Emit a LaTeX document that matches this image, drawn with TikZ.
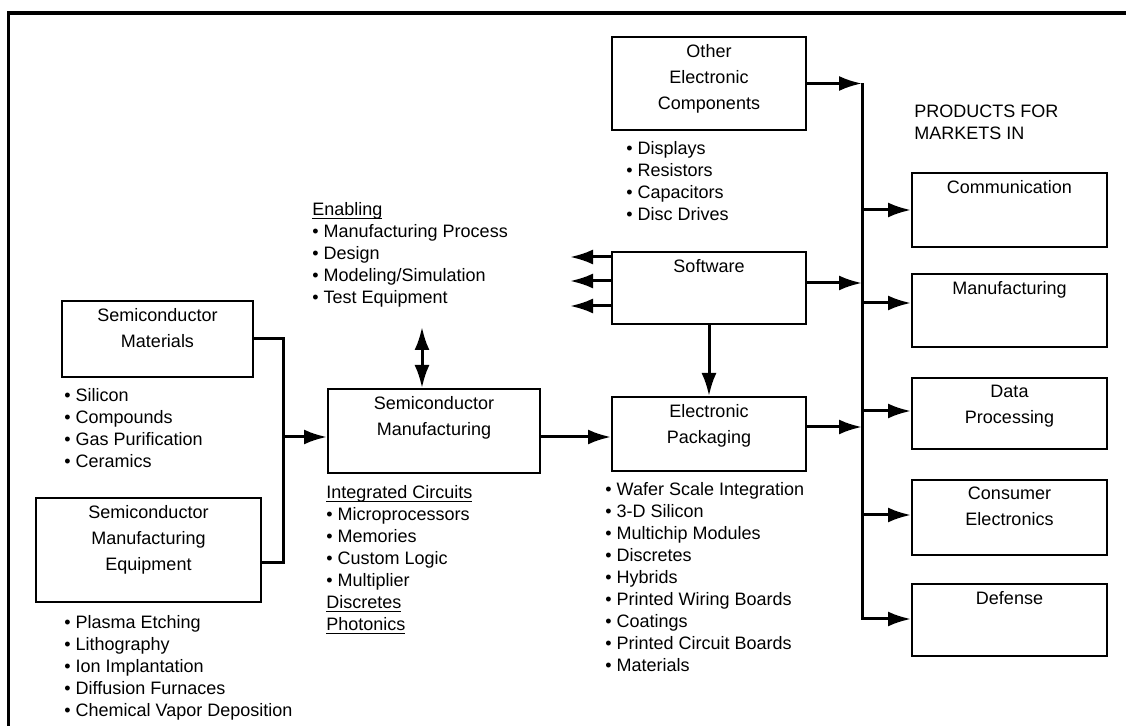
\documentclass[tikz,border=0pt]{standalone}
\usepackage{amsmath}
\usepackage{fontspec}
\setmainfont{Liberation Sans}
\usetikzlibrary{arrows.meta}

\newcommand{\ulin}[1]{\underline{\smash[b]{#1}}}

\tikzset{
  blk/.style={draw, line width=1pt, inner sep=0pt},
  ttl/.style={anchor=north, align=center, inner sep=0pt, yshift=-4pt, font=\fontsize{9}{13}\selectfont},
  lst/.style={anchor=north west, align=left, inner sep=0pt, font=\fontsize{9}{11}\selectfont},
  ln/.style={line width=1.5pt},
  arr/.style={ln, -{Latex[length=11.5pt,width=7.5pt]}},
  dbl/.style={ln, {Latex[length=11.5pt,width=7.5pt]}-{Latex[length=11.5pt,width=7.5pt]}},
}

\begin{document}
\begin{tikzpicture}[x=0.5pt, y=-0.5pt]
    \useasboundingbox (0,0) rectangle (1126,726);
    \draw[line width=1.75pt] (8.5,726) -- (8.5,13) -- (1126,13);

    % left side: materials and equipment
    \node[blk, minimum width=95.5pt, minimum height=38pt] (mat) at (157.5,339) {};
    \node[ttl] (mat-t) at (mat.north) {Semiconductor\\Materials};
    \node[lst] (mat-l) at (64,388) {\textbullet\ Silicon\\\textbullet\ Compounds\\\textbullet\ Gas Purification\\\textbullet\ Ceramics};
    \node[blk, minimum width=112.5pt, minimum height=52pt] (equ) at (148.5,550) {};
    \node[ttl] (equ-t) at (equ.north) {Semiconductor\\Manufacturing\\Equipment};
    \node[lst] (equ-l) at (64,615) {\textbullet\ Plasma Etching\\\textbullet\ Lithography\\\textbullet\ Ion Implantation\\\textbullet\ Diffusion Furnaces\\\textbullet\ Chemical Vapor Deposition};

    % middle
    \node[lst] (enab) at (312,202) {\ulin{Enabling}\\\textbullet\ Manufacturing Process\\\textbullet\ Design\\\textbullet\ Modeling/Simulation\\\textbullet\ Test Equipment};
    \node[blk, minimum width=106pt, minimum height=42pt] (semi) at (434,431) {};
    \node[ttl] (semi-t) at (semi.north) {Semiconductor\\Manufacturing};
    \node[lst] (semi-l) at (326,485) {\ulin{Integrated Circuits}\\\textbullet\ Microprocessors\\\textbullet\ Memories\\\textbullet\ Custom Logic\\\textbullet\ Multiplier\\\ulin{Discretes}\\\ulin{Photonics}};

    \node[blk, minimum width=97pt, minimum height=46.5pt] (oth) at (709,83.5) {};
    \node[ttl] (oth-t) at (oth.north) {Other\\Electronic\\Components};
    \node[lst] (oth-l) at (626,141) {\textbullet\ Displays\\\textbullet\ Resistors\\\textbullet\ Capacitors\\\textbullet\ Disc Drives};
    \node[blk, minimum width=97pt, minimum height=36pt] (soft) at (709,288) {};
    \node[ttl] (soft-t) at (soft.north) {Software};
    \node[blk, minimum width=97pt, minimum height=37pt] (pack) at (709,434) {};
    \node[ttl] (pack-t) at (pack.north) {Electronic\\Packaging};
    \node[lst] (pack-l) at (605,482) {\textbullet\ Wafer Scale Integration\\\textbullet\ 3-D Silicon\\\textbullet\ Multichip Modules\\\textbullet\ Discretes\\\textbullet\ Hybrids\\\textbullet\ Printed Wiring Boards\\\textbullet\ Coatings\\\textbullet\ Printed Circuit Boards\\\textbullet\ Materials};

    % markets
    \node[lst] (prod) at (914,105) {PRODUCTS FOR\\MARKETS IN};
    \node[blk, minimum width=97.5pt, minimum height=37pt] (com) at (1009.5,210) {};
    \node[ttl] (com-t) at (com.north) {Communication};
    \node[blk, minimum width=97.5pt, minimum height=36.5pt] (man) at (1009.5,310.5) {};
    \node[ttl] (man-t) at (man.north) {Manufacturing};
    \node[blk, minimum width=97.5pt, minimum height=35.5pt] (dat) at (1009.5,413.5) {};
    \node[ttl] (dat-t) at (dat.north) {Data\\Processing};
    \node[blk, minimum width=97.5pt, minimum height=37.5pt] (con) at (1009.5,517.5) {};
    \node[ttl] (con-t) at (con.north) {Consumer\\Electronics};
    \node[blk, minimum width=97.5pt, minimum height=36pt] (def) at (1009.5,620) {};
    \node[ttl] (def-t) at (def.north) {Defense};

    % connectors
    \coordinate (mj) at (283,563);
    \coordinate (mjoin) at (283,437);
    \coordinate (en) at (422,327);
    \coordinate (bus) at (862,0);
    \draw[ln] (mat.east) -| (mj) -- (equ.east |- mj);
    \draw[arr] (mjoin) -- (semi.west |- mjoin);
    \draw[arr] (semi.east |- mjoin) -- (pack.west |- mjoin);
    \draw[dbl] (en) -- (en |- semi.north);
    \foreach \s in {15.5,3.5,-9}
      \draw[arr] ([yshift=\s pt]soft.west) -- ++(-41,0);
    \draw[arr] (soft) -- (pack);
    \draw[ln] (oth.east -| bus) -- (def.west -| bus);
    \draw[arr] (oth.east) -- (oth.east -| bus);
    \draw[arr] ([yshift=2.5pt]soft.east) -- ([yshift=2.5pt]soft.east -| bus);
    \draw[arr] ([yshift=3.5pt]pack.east) -- ([yshift=3.5pt]pack.east -| bus);
    \foreach \b/\s in {com/0,man/3.75,dat/1.25,con/1.25,def/0.5}
      \draw[arr] ([yshift=\s pt]\b.west -| bus) -- ([yshift=\s pt]\b.west);
\end{tikzpicture}
\end{document}
